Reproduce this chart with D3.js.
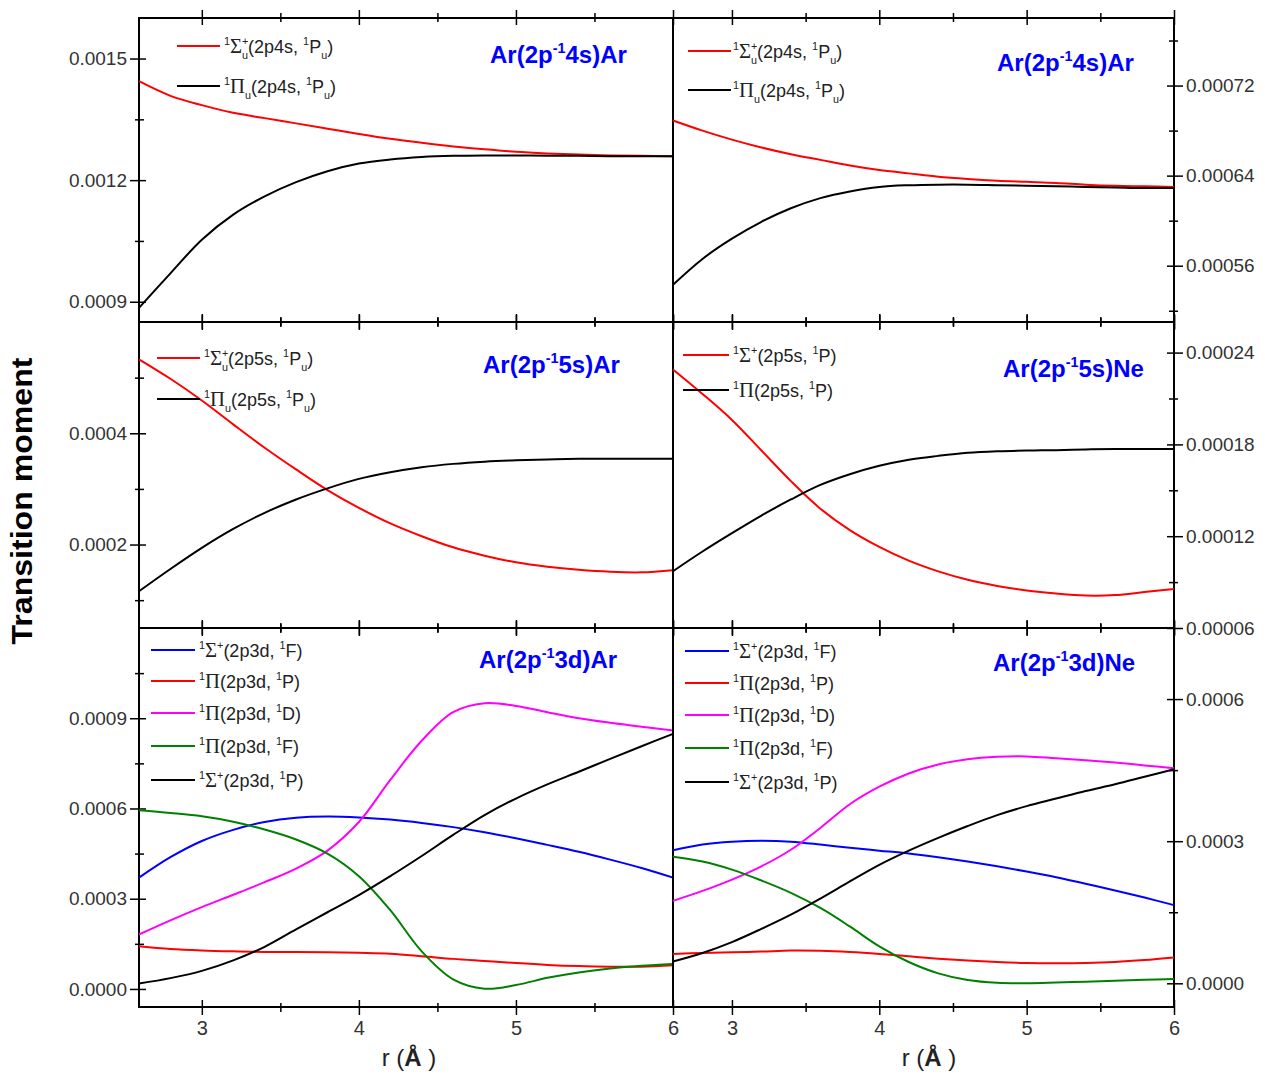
<!DOCTYPE html>
<html><head><meta charset="utf-8">
<script src="https://cdn.jsdelivr.net/npm/d3@7"></script>
<style>body{margin:0;background:#fff}svg{display:block}</style>
</head><body>
<svg id="chart" width="1265" height="1074"></svg>
<script>
// ---------- DATA ----------
const rGrid = [2.6,2.8,3.0,3.2,3.4,3.6,3.8,4.0,4.2,4.4,4.6,4.8,5.0,5.2,5.4,5.6,5.8,6.0];
const xMajorTicks = [3,4,5,6];
const xMinorTicks = [3.5,4.5,5.5];

// Ar(2p-1 4s)Ar  (left column)
const ar4sArL_Sigma = [0.001444,0.001408,0.001385,0.001366,0.001353,0.001340,0.001327,0.001314,0.001302,0.001292,0.001283,0.001276,0.001270,0.001266,0.001263,0.001261,0.001260,0.001259];
const ar4sArL_Pi    = [0.000885,0.000970,0.001053,0.001115,0.001160,0.001195,0.001222,0.001241,0.001251,0.001257,0.001260,0.001261,0.001261,0.001260,0.001260,0.001259,0.001259,0.001259];
// Ar(2p-1 4s)Ar  (right column)
const ar4sArR_Sigma = [0.000689,0.000680,0.000672,0.000665,0.000659,0.000654,0.000649,0.000645,0.000642,0.000639,0.000637,0.0006355,0.0006345,0.0006335,0.000632,0.000631,0.0006305,0.000630];
const ar4sArR_Pi    = [0.000543,0.000566,0.000584,0.000599,0.000611,0.000620,0.000626,0.000630,0.0006315,0.000632,0.000632,0.0006315,0.000631,0.0006305,0.000630,0.0006295,0.000629,0.000629];
// Ar(2p-1 5s)Ar
const ar5sAr_Sigma = [0.000533,0.000498,0.000459,0.000416,0.000374,0.000335,0.000298,0.000266,0.000238,0.000215,0.000195,0.000180,0.000168,0.000160,0.0001545,0.000151,0.000150,0.000154];
const ar5sAr_Pi    = [0.000116,0.000156,0.000194,0.000228,0.000257,0.000281,0.000301,0.000318,0.000330,0.000339,0.000345,0.000349,0.0003515,0.000353,0.000354,0.000354,0.000354,0.000354];
// Ar(2p-1 5s)Ne
const ar5sNe_Sigma = [0.000229,0.000213,0.000196,0.000176,0.000156,0.000138,0.000124,0.000113,0.000104,0.000097,0.0000915,0.0000875,0.0000845,0.0000825,0.0000812,0.0000815,0.0000835,0.0000855];
const ar5sNe_Pi    = [0.0000971,0.000110,0.000122,0.0001335,0.000144,0.0001535,0.0001605,0.000166,0.000170,0.0001725,0.0001745,0.0001755,0.000176,0.0001762,0.0001767,0.000177,0.000177,0.000177];
// Ar(2p-1 3d)Ar
const ar3dAr_SigmaF = [0.000370,0.000438,0.000492,0.000529,0.000555,0.000569,0.000573,0.000570,0.000563,0.000552,0.000538,0.000521,0.000501,0.000479,0.000456,0.000430,0.000402,0.000370];
const ar3dAr_PiP    = [0.000142,0.000133,0.000128,0.000125,0.000123,0.0001225,0.000122,0.000120,0.000117,0.000109,0.000100,0.000093,0.000086,0.000080,0.000076,0.000074,0.000074,0.000079];
const ar3dAr_PiD    = [0.000181,0.000228,0.000272,0.000313,0.000355,0.000400,0.000460,0.000555,0.000695,0.000825,0.000920,0.000950,0.000941,0.000920,0.000900,0.000885,0.000872,0.000859];
const ar3dAr_PiF    = [0.000594,0.000585,0.000574,0.000556,0.000530,0.000497,0.000450,0.000375,0.000262,0.000125,0.000032,0.000001,0.000013,0.000037,0.000055,0.000068,0.000077,0.000083];
const ar3dAr_SigmaP = [0.000018,0.000036,0.000060,0.000095,0.000140,0.000198,0.000255,0.000312,0.000375,0.000442,0.000512,0.000578,0.000633,0.000680,0.000722,0.000765,0.000807,0.000848];
// Ar(2p-1 3d)Ne
const ar3dNe_SigmaF = [0.000281,0.000293,0.000299,0.000301,0.000299,0.000293,0.000286,0.000280,0.000274,0.000266,0.000257,0.000247,0.000236,0.000224,0.000210,0.000196,0.000181,0.000165];
const ar3dNe_PiP    = [0.000062,0.000064,0.0000655,0.000067,0.000069,0.0000685,0.000066,0.000062,0.000057,0.000052,0.000048,0.000045,0.000043,0.0000425,0.000043,0.000045,0.000049,0.0000545];
const ar3dNe_PiD    = [0.000174,0.000195,0.000219,0.000247,0.000282,0.000328,0.000378,0.000415,0.000443,0.000462,0.000473,0.000478,0.000479,0.000475,0.000471,0.000466,0.000460,0.000454];
const ar3dNe_PiF    = [0.000267,0.000257,0.000240,0.000217,0.000191,0.000159,0.000120,0.000078,0.000045,0.000021,0.000007,0.000001,0.000000,0.0000015,0.0000035,0.0000055,0.0000075,0.000009];
const ar3dNe_SigmaP = [0.000046,0.000064,0.000087,0.000115,0.000145,0.000179,0.000215,0.000250,0.000280,0.000307,0.000332,0.000355,0.000374,0.000390,0.000406,0.000420,0.000436,0.000452];

// axis domains and tick values
const yDomTL = [0.00085, 0.0016],  yTicksTL = [0.0009,0.0012,0.0015],           yMinorTL = [0.00105,0.00135];
const yDomTR = [0.00051, 0.00078], yTicksTR = [0.00056,0.00064,0.00072],        yMinorTR = [0.00052,0.0006,0.00068,0.00076];
const yDomML = [0.00005, 0.0006],  yTicksML = [0.0002,0.0004],                  yMinorML = [0.0001,0.0003,0.0005];
const yDomMR = [0.00006, 0.00026], yTicksMR = [0.00006,0.00012,0.00018,0.00024],yMinorMR = [0.00009,0.00015,0.00021];
const yDomBL = [-0.00006, 0.0012], yTicksBL = [0,0.0003,0.0006,0.0009],         yMinorBL = [0.00015,0.00045,0.00075,0.00105];
const yDomBR = [-0.00005, 0.00075],yTicksBR = [0,0.0003,0.0006],                yMinorBR = [0.00015,0.00045];

// texts
const panelTitles = ["Ar(2p^{-1}4s)Ar","Ar(2p^{-1}4s)Ar","Ar(2p^{-1}5s)Ar","Ar(2p^{-1}5s)Ne","Ar(2p^{-1}3d)Ar","Ar(2p^{-1}3d)Ne"];
const legend4s  = ["^1Σ^+_u(2p4s, ^1P_u)","^1Π_u(2p4s, ^1P_u)"];
const legend5sAr= ["^1Σ^+_u(2p5s, ^1P_u)","^1Π_u(2p5s, ^1P_u)"];
const legend5sNe= ["^1Σ^+(2p5s, ^1P)","^1Π(2p5s, ^1P)"];
const legend3d  = ["^1Σ^+(2p3d, ^1F)","^1Π(2p3d, ^1P)","^1Π(2p3d, ^1D)","^1Π(2p3d, ^1F)","^1Σ^+(2p3d, ^1P)"];
const yAxisTitle = "Transition moment";

// ---------- STYLE / LAYOUT ----------
const C = {red:"#ff0000", black:"#000000", blue:"#0000ff", magenta:"#ff00ff", green:"#008000"};
const FONT = "'Liberation Sans', Arial, sans-serif";
const L = {x0:139, x1:673}, R = {x0:673, x1:1174};
const rows = [{y0:18,y1:322},{y0:322,y1:628},{y0:628,y1:1007}];

const panels = [
 {col:L,row:rows[0],dom:yDomTL,maj:yTicksTL,min:yMinorTL,fmt:".4f",side:"left",title:panelTitles[0],tx:490,ty:63,
  lg:{x1:177,x2:220,tx:224,ys:[46,86]},series:[[ar4sArL_Sigma,C.red,legend4s[0]],[ar4sArL_Pi,C.black,legend4s[1]]]},
 {col:R,row:rows[0],dom:yDomTR,maj:yTicksTR,min:yMinorTR,fmt:".5f",side:"right",title:panelTitles[1],tx:997,ty:71,
  lg:{x1:688,x2:731,tx:733,ys:[51,90]},series:[[ar4sArR_Sigma,C.red,legend4s[0]],[ar4sArR_Pi,C.black,legend4s[1]]]},
 {col:L,row:rows[1],dom:yDomML,maj:yTicksML,min:yMinorML,fmt:".4f",side:"left",title:panelTitles[2],tx:483,ty:373,
  lg:{x1:157,x2:200,tx:204,ys:[358,399]},series:[[ar5sAr_Sigma,C.red,legend5sAr[0]],[ar5sAr_Pi,C.black,legend5sAr[1]]]},
 {col:R,row:rows[1],dom:yDomMR,maj:yTicksMR,min:yMinorMR,fmt:".5f",side:"right",title:panelTitles[3],tx:1003,ty:377,
  lg:{x1:683,x2:729,tx:733,ys:[355,390]},series:[[ar5sNe_Sigma,C.red,legend5sNe[0]],[ar5sNe_Pi,C.black,legend5sNe[1]]]},
 {col:L,row:rows[2],dom:yDomBL,maj:yTicksBL,min:yMinorBL,fmt:".4f",side:"left",title:panelTitles[4],tx:479,ty:668,xlab:true,
  lg:{x1:151,x2:195,tx:199,ys:[650,681,713,746,780]},
  series:[[ar3dAr_SigmaF,C.blue,legend3d[0]],[ar3dAr_PiP,C.red,legend3d[1]],[ar3dAr_PiD,C.magenta,legend3d[2]],[ar3dAr_PiF,C.green,legend3d[3]],[ar3dAr_SigmaP,C.black,legend3d[4]]]},
 {col:R,row:rows[2],dom:yDomBR,maj:yTicksBR,min:yMinorBR,fmt:".4f",side:"right",title:panelTitles[5],tx:993,ty:671,xlab:true,
  lg:{x1:685,x2:729,tx:733,ys:[651,683,715,748,782]},
  series:[[ar3dNe_SigmaF,C.blue,legend3d[0]],[ar3dNe_PiP,C.red,legend3d[1]],[ar3dNe_PiD,C.magenta,legend3d[2]],[ar3dNe_PiF,C.green,legend3d[3]],[ar3dNe_SigmaP,C.black,legend3d[4]]]}
];

const svg = d3.select("#chart");
svg.append("rect").attr("width",1265).attr("height",1074).attr("fill","#fff");

// rich text with ^sup and _sub markup
function tokens(s){
  const out=[]; let i=0;
  while(i<s.length){
    const c=s[i];
    if(c==="^"||c==="_"){
      const mode=c==="^"?"sup":"sub"; i++; let t;
      if(s[i]==="{"){const j=s.indexOf("}",i); t=s.slice(i+1,j); i=j+1;} else {t=s[i]; i++;}
      out.push({t,mode});
    } else {
      let j=i; while(j<s.length && s[j]!=="^" && s[j]!=="_") j++;
      s.slice(i,j).split(/([ΣΠ])/).filter(x=>x).forEach(x=>out.push({t:x,mode:/[ΣΠ]/.test(x)?"g":"n"}));
      i=j;
    }
  }
  return out;
}
function rich(text, str, size, gScale){
  let cur=0, prev=null, prevMode=null;
  tokens(str).forEach(tk=>{
    let shift=0, fs=size;
    if(tk.mode==="sup"){shift=-size*0.42; fs=size*0.6;}
    else if(tk.mode==="sub"){shift=size*0.32; fs=size*0.6;}
    else if(tk.mode==="g"){fs=size*(gScale||1.15);}
    const ts=text.append("tspan").attr("font-size",fs).attr("dy",shift-cur).text(tk.t);
    if(tk.mode==="g") ts.attr("font-family","'Liberation Serif', serif");
    if(tk.mode==="sub" && prevMode==="sup" && prev && prev.text()!=="1"){
      ts.attr("dx",-prev.node().getComputedTextLength());
    }
    cur=shift; prev=ts; prevMode=tk.mode;
  });
}

panels.forEach(p=>{
  const g = svg.append("g");
  const x = d3.scaleLinear().domain([2.6,6]).range([p.col.x0,p.col.x1]);
  const y = d3.scaleLinear().domain(p.dom).range([p.row.y1,p.row.y0]);

  // frame
  g.append("rect").attr("x",p.col.x0).attr("y",p.row.y0)
   .attr("width",p.col.x1-p.col.x0).attr("height",p.row.y1-p.row.y0)
   .attr("fill","none").attr("stroke","#000").attr("stroke-width",2);

  // y axis (major + minor), crossing ticks
  const left = p.side==="left";
  const ax = left ? d3.axisLeft : d3.axisRight;
  const xPos = left ? p.col.x0 : p.col.x1;
  const sgn = left ? 1 : -1;
  const gy = g.append("g").attr("transform",`translate(${xPos},0)`)
    .call(ax(y).tickValues(p.maj).tickFormat(d3.format(p.fmt)).tickSize(9).tickPadding(3));
  gy.select(".domain").remove();
  gy.selectAll(".tick line").attr("x1",7*sgn).attr("stroke","#000").attr("stroke-width",1.5);
  gy.selectAll("text").attr("font-family",FONT).attr("font-size",19).attr("fill","#333");
  const gym = g.append("g").attr("transform",`translate(${xPos},0)`)
    .call(ax(y).tickValues(p.min).tickFormat("").tickSize(4));
  gym.select(".domain").remove();
  gym.selectAll(".tick line").attr("x1",5*sgn).attr("stroke","#000").attr("stroke-width",1.5);

  // x axes top and bottom
  [["bottom",p.row.y1],["top",p.row.y0]].forEach(([pos,yy])=>{
    const a = pos==="bottom" ? d3.axisBottom : d3.axisTop;
    const s = pos==="bottom" ? 1 : -1;
    const showLab = pos==="bottom" && p.xlab;
    const gx = g.append("g").attr("transform",`translate(0,${yy})`)
      .call(a(x).tickValues(xMajorTicks).tickFormat(showLab?d3.format("d"):"").tickSize(8).tickPadding(6));
    gx.select(".domain").remove();
    gx.selectAll(".tick line").attr("y1",-7*s).attr("stroke","#000").attr("stroke-width",1.5);
    gx.selectAll("text").attr("font-family",FONT).attr("font-size",20).attr("fill","#333");
    const gxm = g.append("g").attr("transform",`translate(0,${yy})`)
      .call(a(x).tickValues(xMinorTicks).tickFormat("").tickSize(5));
    gxm.select(".domain").remove();
    gxm.selectAll(".tick line").attr("y1",-4*s).attr("stroke","#000").attr("stroke-width",1.5);
  });

  // curves
  const line = d3.line().x((d,i)=>x(rGrid[i])).y(d=>y(d)).curve(d3.curveCatmullRom.alpha(0.5));
  p.series.forEach(([vals,col])=>{
    g.append("path").datum(vals).attr("d",line).attr("fill","none")
     .attr("stroke",col).attr("stroke-width",2);
  });

  // legend
  p.series.forEach(([vals,col,name],i)=>{
    const yy=p.lg.ys[i];
    g.append("line").attr("x1",p.lg.x1).attr("x2",p.lg.x2).attr("y1",yy).attr("y2",yy)
     .attr("stroke",col).attr("stroke-width",2);
    const t=g.append("text").attr("x",p.lg.tx).attr("y",yy+7).attr("font-family",FONT)
     .attr("font-size",18).attr("fill","#222");
    rich(t,name,18,1.15);
  });

  // title
  const tt=g.append("text").attr("x",p.tx).attr("y",p.ty).attr("font-family",FONT)
    .attr("font-weight","bold").attr("font-size",24).attr("fill","#0000ff");
  rich(tt,p.title,24);

  // x axis title
  if(p.xlab){
    const cx = p.col===L ? 409 : 929;
    const xt = svg.append("text").attr("x",cx).attr("y",1066).attr("text-anchor","middle")
      .attr("font-family",FONT).attr("font-size",24).attr("fill","#222");
    xt.append("tspan").text("r (");
    xt.append("tspan").attr("font-weight","bold").text("Å");
    xt.append("tspan").text(" )");
  }
});

// y axis title
svg.append("text").attr("transform","translate(32,501) rotate(-90)").attr("text-anchor","middle")
  .attr("font-family",FONT).attr("font-weight","bold").attr("font-size",30)
  .attr("textLength",287).attr("lengthAdjust","spacingAndGlyphs").attr("fill","#000").text(yAxisTitle);
</script>
</body></html>
